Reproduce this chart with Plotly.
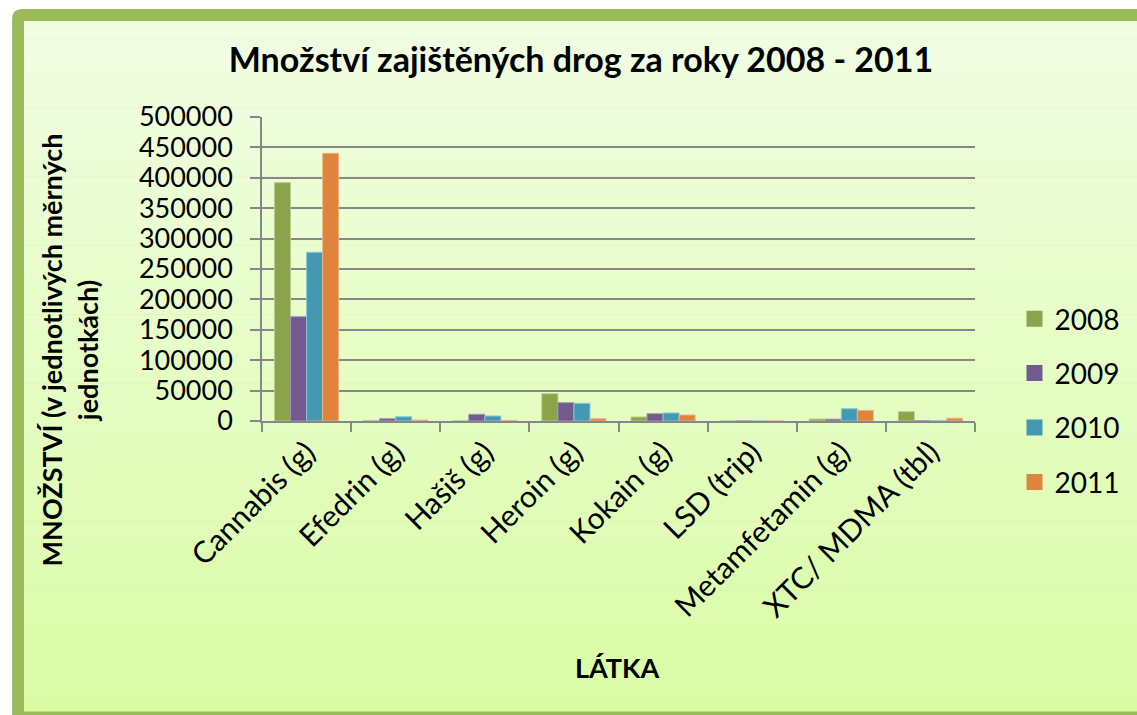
import plotly.graph_objects as go

categories = ["Cannabis (g)", "Efedrin (g)", "Hašiš (g)", "Heroin (g)", "Kokain (g)",
              "LSD (trip)", "Metamfetamin (g)", "XTC/ MDMA (tbl)"]
years = ["2008", "2009", "2010", "2011"]
v2008 = [392000, 700, 200, 44900, 6600, 50, 3300, 15300]
v2009 = [171500, 3800, 11000, 30100, 12000, 20, 3000, 300]
v2010 = [277500, 7000, 8200, 29100, 13200, 10, 20200, 200]
v2011 = [440300, 1500, 1000, 3800, 9900, 30, 17500, 4500]
series = [v2008, v2009, v2010, v2011]
colors = ["#8BA44C", "#725A8F", "#4499B2", "#DE843D"]
edge = ["#B9CC8C", "#A594BB", "#8CC6D8", "#F0B384"]

W, H = 1137, 715
L, R, T, B = 262, 984, 117, 421
FONT = "Lato"

def px(x):
    return (x - L) / (R - L)

def py(y):
    return (B - y) / (B - T)

fig = go.Figure()
for name, vals, c, e in zip(years, series, colors, edge):
    fig.add_trace(go.Bar(x=categories, y=vals, name=name, marker_color=c,
                         marker_line=dict(color=e, width=1), showlegend=False))
for i, (name, c) in enumerate(zip(years, colors)):
    fig.add_trace(go.Scatter(x=[None], y=[None], mode="markers", name=name,
                             legendgroup="g%d" % i,
                             marker=dict(symbol="square", size=16, color=c)))

shapes = []
shapes.append(dict(type="path", xref="paper", yref="paper", layer="below",
                   path=f"M {px(9)},{py(19)} Q {px(9)},{py(9)} {px(19)},{py(9)} L {px(1160)},{py(9)} L {px(1160)},{py(730)} L {px(9)},{py(730)} Z",
                   fillcolor="#9BBB59", line=dict(width=0)))
top = (241, 253, 227)
bot = (218, 252, 166)
nb = 40
y0, y1 = 21, 711
for i in range(nb):
    t = i / (nb - 1)
    col = tuple(round(top[k] + (bot[k] - top[k]) * t) for k in range(3))
    ya = y0 + (y1 - y0) * i / nb
    yb = y0 + (y1 - y0) * (i + 1) / nb + 0.5
    shapes.append(dict(type="rect", xref="paper", yref="paper", layer="below",
                       x0=px(21), x1=px(1150), y0=py(ya), y1=py(yb),
                       fillcolor="rgb(%d,%d,%d)" % col, line=dict(width=0)))

fig.update_layout(
    width=W, height=H,
    margin=dict(l=L, r=W - R, t=T, b=H - B),
    paper_bgcolor="white", plot_bgcolor="white",
    barmode="group", bargap=0.28, bargroupgap=0,
    font=dict(family=FONT, size=28, color="black"),
    shapes=shapes,
    title=dict(text="<b>Množství zajištěných drog za roky 2008 - 2011</b>",
               x=581 / W, xanchor="center", xref="container",
               y=1 - 60 / H, yanchor="middle", yref="container",
               font=dict(family=FONT, size=34, color="black")),
    legend=dict(x=px(1024), xanchor="left", y=py(294), yanchor="top",
                bgcolor="rgba(0,0,0,0)", font=dict(size=28),
                tracegroupgap=15, traceorder="grouped", itemwidth=30),
    xaxis=dict(showline=True, linecolor="#878787", linewidth=1.5,
               ticks="outside", tickson="boundaries", ticklen=9, tickcolor="#878787", tickwidth=1.5,
               tickangle=-45, tickfont=dict(size=30), showgrid=False),
    yaxis=dict(range=[0, 500000], dtick=50000, showline=True, linecolor="#878787", linewidth=1.5,
               ticks="outside", ticklen=10, tickcolor="#878787", tickwidth=1.5,
               gridcolor="#878787", gridwidth=1.5, tickformat="d",
               ticklabelstandoff=12, tickfont=dict(size=27), zeroline=False),
    annotations=[
        dict(text="<b>MNOŽSTVÍ (v jednotlivých měrných<br>jednotkách)</b>", textangle=-90,
             xref="paper", yref="paper", x=px(67), y=py(350), xanchor="center", yanchor="middle",
             showarrow=False, font=dict(family=FONT, size=27)),
        dict(text="<b>LÁTKA</b>", xref="paper", yref="paper", x=px(622), y=py(667),
             xanchor="center", yanchor="middle", showarrow=False, font=dict(family=FONT, size=27)),
    ],
)

fig.write_html("out.html", config={"displayModeBar": False},
               post_script="document.body.style.margin='0';")
